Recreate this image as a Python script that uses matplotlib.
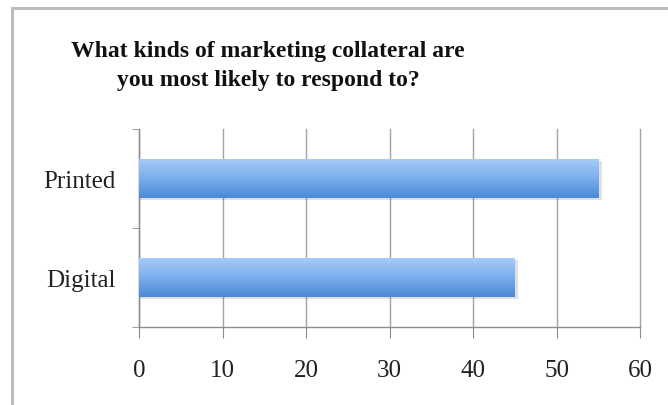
import numpy as np
import matplotlib.pyplot as plt
from matplotlib.lines import Line2D
from matplotlib.colors import LinearSegmentedColormap

# survey answers (percent of respondents)
categories = ['Digital', 'Printed']
shares = [45, 55]
x_ticks = [0, 10, 20, 30, 40, 50, 60]

title = 'What kinds of marketing collateral are\nyou most likely to respond to?'

fig = plt.figure(figsize=(6.68, 4.06), dpi=100)
fig.patch.set_facecolor('white')

# chart frame, only the top and left edges show
fig.add_artist(Line2D([12 / 668, 12 / 668], [0, 1 - 9 / 406], color='#bdbdbd', lw=2.2,
                      transform=fig.transFigure))
fig.add_artist(Line2D([12 / 668, 1], [1 - 9 / 406, 1 - 9 / 406], color='#bdbdbd', lw=2.2,
                      transform=fig.transFigure))

ax = fig.add_axes([139 / 668, 78 / 406, 501 / 668, 198 / 406])

ypos = np.arange(len(categories))
bars = ax.barh(ypos, shares, height=0.4, color='#6fa3e6', zorder=3)

# vertical gradient on each bar, light on top, darker below
grad_cmap = LinearSegmentedColormap.from_list('barblue', ['#4a88d6', '#7caeed', '#a9ccf8'])
grad = np.linspace(0, 1, 256).reshape(-1, 1)
for b in bars:
    x0, y0 = b.get_x(), b.get_y()
    w, h = b.get_width(), b.get_height()
    # soft shadow under the bar
    ax.barh(y0 + h / 2 - 0.02, w + 0.4, height=h, left=x0, color='#000000', alpha=0.12,
            zorder=2, linewidth=0)
    img = ax.imshow(grad, extent=[x0, x0 + w, y0, y0 + h], origin='lower', aspect='auto',
                    cmap=grad_cmap, zorder=4)
    img.set_clip_path(b)
    b.set_alpha(0)

ax.set_xlim(0, 60)
ax.set_ylim(-0.5, 1.5)
ax.set_xticks(x_ticks)
ax.set_yticks(ypos)
ax.set_yticklabels(categories)
ax.set_yticks([-0.5, 0.5, 1.5], minor=True)

ax.grid(axis='x', color='#a3a3a3', lw=1, zorder=0)
for gl in ax.get_xgridlines():
    gl.set_clip_on(False)
for s in ['top', 'right']:
    ax.spines[s].set_visible(False)
for s in ['left', 'bottom']:
    ax.spines[s].set_color('#8c8c8c')
    ax.spines[s].set_linewidth(1)

ax.tick_params(axis='x', length=8, color='#8c8c8c', pad=15,
               labelsize=18, labelcolor='#222222')
ax.tick_params(axis='y', which='major', length=0, pad=17, labelsize=18, labelcolor='#222222')
ax.tick_params(axis='y', which='minor', length=5, color='#8c8c8c')
for lab in ax.get_xticklabels() + ax.get_yticklabels():
    lab.set_family('Liberation Serif')

fig.text(268 / 668, 1 - 66 / 406, title, ha='center', va='center', fontsize=17,
         fontweight='bold', family='Liberation Serif', linespacing=1.45, color='#111111')

fig.savefig('out.png', dpi=100)
